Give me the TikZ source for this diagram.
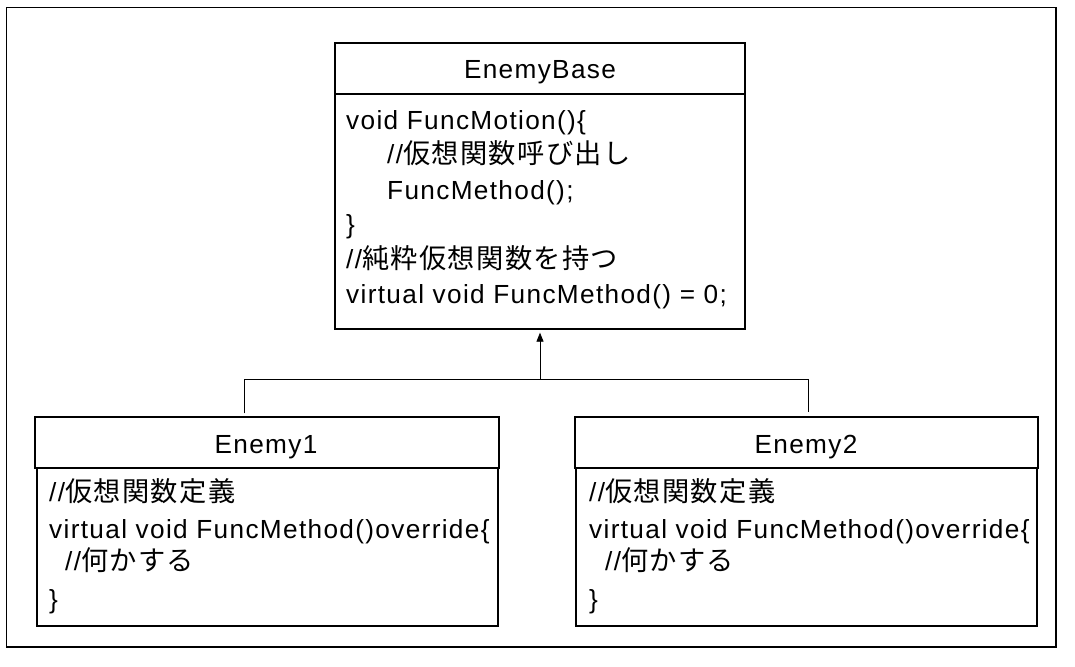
\documentclass[tikz,border=0pt]{standalone}
\usepackage{fontspec}
\setmainfont{Liberation Sans}[LetterSpace=5.1]
\newfontfamily\jpf{Noto Sans CJK JP}[LetterSpace=5, Scale=1.04]
\usetikzlibrary{arrows.meta}
\newcommand{\J}[1]{{\jpf #1}}
\begin{document}
\begin{tikzpicture}[x=1pt,y=-1pt,
  classbox/.style={draw, line width=1.3pt, inner sep=0pt},
  txt/.style={inner sep=0pt, font=\fontsize{26.2pt}{30pt}\selectfont},
  lline/.style={txt, anchor=base west},
  ttl/.style={txt, anchor=base},
  conn/.style={draw, line width=0.8pt},
  frame/.style={draw, line width=1.5pt}]
\useasboundingbox (0,0) rectangle (1075,666);
\draw[frame] (6.5,7.5) rectangle (1056,647);

% EnemyBase
\node[classbox, minimum width=410pt, minimum height=51pt] (baseh) at (540,68.5) {};
\node[classbox, minimum width=410pt, minimum height=235pt] (base) at (540,211.5) {};
\node[ttl] (baset) at (540,79) {EnemyBase};
\node[lline] (b1) at (346,129) {void FuncMotion()\{};
\node[lline] (b2) at (387,163) {//\J{仮想関数呼び出し}};
\node[lline] (b3) at (387,199) {FuncMethod();};
\node[lline] (b4) at (346,233) {\}};
\node[lline] (b5) at (346,268) {//\J{純粋仮想関数を持つ}};
\node[lline] (b6) at (346,303) {virtual void FuncMethod() = 0;};

% Enemy1
\node[classbox, minimum width=464pt, minimum height=51pt] (e1h) at (267,442.5) {};
\node[classbox, minimum width=461pt, minimum height=158pt] (e1) at (267.5,547) {};
\node[ttl] (e1t) at (266,453) {Enemy1};
\node[lline] (e1a) at (49,501) {//\J{仮想関数定義}};
\node[lline] (e1b) at (49,538) {virtual void FuncMethod()override\{};
\node[lline] (e1c) at (65,570) {//\J{何かする}};
\node[lline] (e1d) at (49,608) {\}};

% Enemy2
\node[classbox, minimum width=463pt, minimum height=51pt] (e2h) at (806.5,442.5) {};
\node[classbox, minimum width=461pt, minimum height=158pt] (e2) at (806.5,547) {};
\node[ttl] (e2t) at (806,453) {Enemy2};
\node[lline] (e2a) at (589,501) {//\J{仮想関数定義}};
\node[lline] (e2b) at (589,538) {virtual void FuncMethod()override\{};
\node[lline] (e2c) at (605,570) {//\J{何かする}};
\node[lline] (e2d) at (589,608) {\}};

% connectors
\coordinate (jl) at (244,379);
\coordinate (jr) at (808,379);
\coordinate (jm) at (540,379);
\draw[conn, shorten <=3pt, shorten >=4pt] (jl |- e1h.north) -- (jl) -- (jr) -- (jr |- e2h.north);
\draw[conn, -{Triangle[length=9pt,width=7pt]}, shorten >=3pt] (jm) -- (base.south);
\end{tikzpicture}
\end{document}
